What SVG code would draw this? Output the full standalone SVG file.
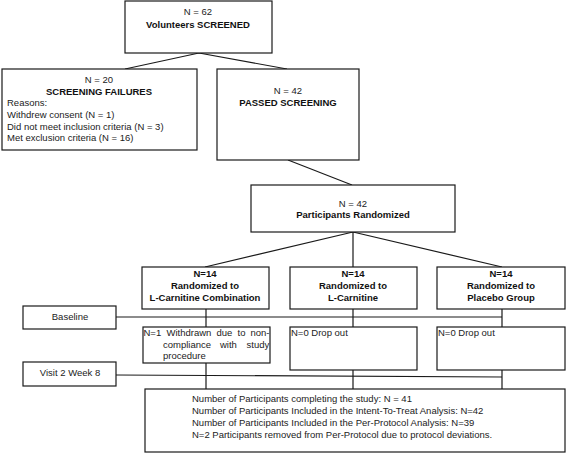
<svg xmlns="http://www.w3.org/2000/svg" width="567" height="454" viewBox="0 0 567 454">
<style>
.box{fill:#fff;stroke:#1a1a1a;stroke-width:1.2}
.ln{fill:none;stroke:#1a1a1a;stroke-width:1.2}
text{font-family:"Liberation Sans",Arial,sans-serif;font-size:9.5px;fill:#222}
.c{text-anchor:middle}
.b{font-weight:bold;fill:#111}
</style>
<rect width="567" height="454" fill="#fff"/>
<g id="connectors">
<path class="ln" d="M199,53 L125,69 M199,53 L287,69"/>
<path class="ln" d="M288,160 L352,185"/>
<path class="ln" d="M353,232 L205,267 M353,232 L353,267 M353,232 L502,267"/>
<path class="ln" d="M116,317 L502,317"/>
<path class="ln" d="M206,309 L206,327 M353,309 L353,327 M502,309 L502,327"/>
<path class="ln" d="M116,375 L502,377"/>
<path class="ln" d="M206,363 L206,389 M353,370 L353,389 M502,370 L502,389"/>
</g>
<g id="screened">
<rect class="box" x="125" y="1" width="147" height="52"/>
<text class="c" x="198" y="15">N = 62</text>
<text class="c b" x="198" y="28">Volunteers SCREENED</text>
</g>
<g id="failures">
<rect class="box" x="2" y="69" width="195" height="81"/>
<text class="c" x="99" y="83">N = 20</text>
<text class="c b" x="99" y="95">SCREENING FAILURES</text>
<text x="7" y="106">Reasons:</text>
<text x="7" y="118">Withdrew consent (N = 1)</text>
<text x="7" y="130">Did not meet inclusion criteria (N = 3)</text>
<text x="7" y="141">Met exclusion criteria (N = 16)</text>
</g>
<g id="passed">
<rect class="box" x="217" y="69" width="142" height="91"/>
<text class="c" x="288" y="94">N = 42</text>
<text class="c b" x="288" y="106">PASSED SCREENING</text>
</g>
<g id="randomized">
<rect class="box" x="251" y="185" width="204" height="47"/>
<text class="c" x="353" y="207">N = 42</text>
<text class="c b" x="353" y="218">Participants Randomized</text>
</g>
<g id="arm1">
<rect class="box" x="142" y="267" width="127" height="42"/>
<text class="c b" x="205" y="277">N=14</text>
<text class="c b" x="205" y="289">Randomized to</text>
<text class="c b" x="205" y="301">L-Carnitine Combination</text>
</g>
<g id="arm2">
<rect class="box" x="290" y="267" width="127" height="42"/>
<text class="c b" x="353" y="277">N=14</text>
<text class="c b" x="353" y="289">Randomized to</text>
<text class="c b" x="353" y="301">L-Carnitine</text>
</g>
<g id="arm3">
<rect class="box" x="437" y="267" width="128" height="42"/>
<text class="c b" x="501" y="277">N=14</text>
<text class="c b" x="501" y="289">Randomized to</text>
<text class="c b" x="501" y="301">Placebo Group</text>
</g>
<g id="baseline">
<rect class="box" x="23" y="306" width="93" height="23"/>
<text class="c" x="70" y="320">Baseline</text>
</g>
<g id="withdrawn">
<rect class="box" x="143" y="327" width="127" height="36"/>
<text y="336"><tspan x="143.5">N=1</tspan><tspan x="166.5">Withdrawn</tspan><tspan x="216.5">due</tspan><tspan x="237.5">to</tspan><tspan x="250.5">non-</tspan></text>
<text y="348"><tspan x="163">compliance</tspan><tspan x="220">with</tspan><tspan x="246.5">study</tspan></text>
<text x="163" y="359">procedure</text>
</g>
<g id="dropout2">
<rect class="box" x="290" y="327" width="127" height="43"/>
<text x="291" y="336">N=0 Drop out</text>
</g>
<g id="dropout3">
<rect class="box" x="437" y="327" width="128" height="43"/>
<text x="438" y="336">N=0 Drop out</text>
</g>
<g id="visit2">
<rect class="box" x="23" y="362" width="93" height="24"/>
<text class="c" x="70" y="376">Visit 2 Week 8</text>
</g>
<g id="summary">
<rect class="box" x="145" y="389" width="420" height="63"/>
<text x="192" y="402">Number of Participants completing the study: N = 41</text>
<text x="192" y="414">Number of Participants Included in the Intent-To-Treat Analysis: N=42</text>
<text x="192" y="426">Number of Participants Included in the Per-Protocol Analysis: N=39</text>
<text x="192" y="438">N=2 Participants removed from Per-Protocol due to protocol deviations.</text>
</g>
</svg>
